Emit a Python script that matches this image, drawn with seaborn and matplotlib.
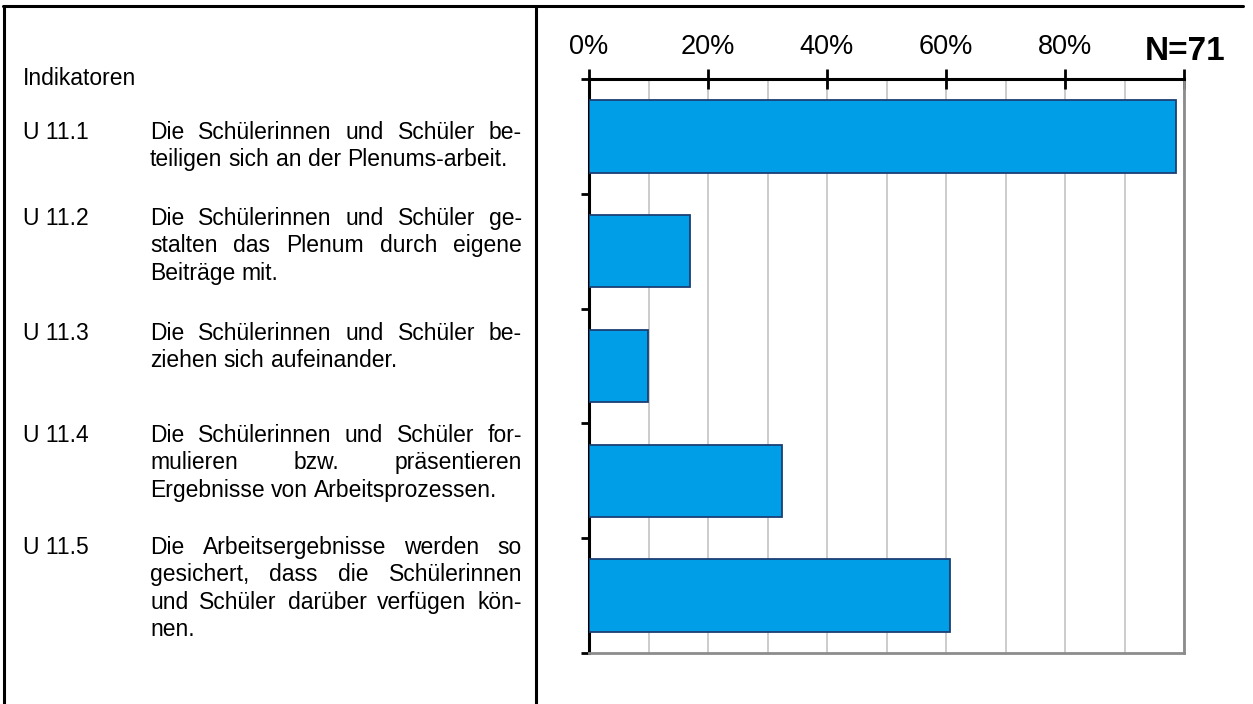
import numpy as np
import pandas as pd
import matplotlib
matplotlib.use("Agg")
import matplotlib.pyplot as plt
import seaborn as sns
from matplotlib.lines import Line2D

codes = ["U 11.1", "U 11.2", "U 11.3", "U 11.4", "U 11.5"]
shares = [98.6, 16.9, 9.9, 32.4, 60.6]   # % of N=71
tick_labels = ["0%", "20%", "40%", "60%", "80%", ""]
n_label = "N=71"
header = "Indikatoren"
descriptions = [
    ["Die Schülerinnen und Schüler be-", "teiligen sich an der Plenums-arbeit."],
    ["Die Schülerinnen und Schüler ge-", "stalten das Plenum durch eigene", "Beiträge mit."],
    ["Die Schülerinnen und Schüler be-", "ziehen sich aufeinander."],
    ["Die Schülerinnen und Schüler for-", "mulieren bzw. präsentieren",
     "Ergebnisse von Arbeitsprozessen."],
    ["Die Arbeitsergebnisse werden so", "gesichert, dass die Schülerinnen",
     "und Schüler darüber verfügen kön-", "nen."],
]

df = pd.DataFrame({"Indikator": codes, "Anteil": shares})

sns.set_style("white")
plt.rcParams["font.family"] = ["Liberation Sans", "DejaVu Sans"]
plt.rcParams["text.color"] = "black"
plt.rcParams["xtick.color"] = "black"
plt.rcParams["ytick.color"] = "black"

W, H = 1253, 704
fig = plt.figure(figsize=(W / 100, H / 100), dpi=100)
renderer = fig.canvas.get_renderer()


def fx(x):
    return x / W


def fy(y):
    return 1 - y / H


# table frame
for xs, ys in [([3, 1243], [6, 6]), ([4, 4], [6, 704]), ([536, 536], [6, 704])]:
    fig.add_artist(Line2D([fx(v) for v in xs], [fy(v) for v in ys],
                          transform=fig.transFigure, color="black", lw=2.2))

body_size = 16.5


def put_line(line, x0, x1, y, justify):
    words = line.split()
    arts = [fig.text(0, 0, w, fontsize=body_size, va="baseline") for w in words]
    widths = [a.get_window_extent(renderer).width for a in arts]
    if justify and len(words) > 1:
        gap = (x1 - x0 - sum(widths)) / (len(words) - 1)
    else:
        gap = body_size * 0.278 * 100 / 72
    x = x0
    for a, w in zip(arts, widths):
        a.set_position((fx(x), fy(y)))
        x += w + gap


fig.text(fx(23), fy(77 + 8), header, fontsize=body_size, va="baseline")
first_lines = [131, 217, 332, 434, 546]
line_step = 27.3
for code, lines, y0 in zip(codes, descriptions, first_lines):
    fig.text(fx(23), fy(y0 + 8), code, fontsize=body_size, va="baseline")
    for i, line in enumerate(lines):
        put_line(line, 150, 522, y0 + 8 + i * line_step, i < len(lines) - 1)

# bar chart
ax = fig.add_axes([fx(589), fy(653), fx(1184) - fx(589), fy(79) - fy(653)])
sns.barplot(data=df, x="Anteil", y="Indikator", orient="h", color="#009EE6",
            saturation=1, edgecolor="#1B3F74", linewidth=1.3, width=0.63,
            ax=ax, zorder=3)
ax.set_xlim(0, 100)
ax.set_ylim(4.5, -0.5)
ax.set_xlabel("")
ax.set_ylabel("")

ax.xaxis.tick_top()
ax.set_xticks(np.arange(0, 101, 20))
ax.set_xticks(np.arange(10, 100, 20), minor=True)
ax.set_xticklabels(tick_labels, fontsize=19.5)
ax.tick_params(axis="x", which="major", direction="inout", length=14, width=2,
               color="black", pad=7)
ax.tick_params(axis="x", which="minor", length=0)
ax.xaxis.grid(True, which="both", color="#C8C8C8", lw=1.3, zorder=0)
ax.set_axisbelow(True)

ax.set_yticks(np.arange(-0.5, 5, 1))
ax.set_yticklabels([])
ax.tick_params(axis="y", direction="out", length=6, width=2, color="black", left=True)

ax.spines["left"].set_color("black")
ax.spines["left"].set_linewidth(2.2)
ax.spines["top"].set_color("black")
ax.spines["top"].set_linewidth(2.2)
for s in ["right", "bottom"]:
    ax.spines[s].set_visible(True)
    ax.spines[s].set_color("#8C8C8C")
    ax.spines[s].set_linewidth(2)

fig.text(fx(1185), fy(51), n_label, fontsize=24, fontweight="bold",
         ha="center", va="center")

fig.savefig("out.png", dpi=100)
